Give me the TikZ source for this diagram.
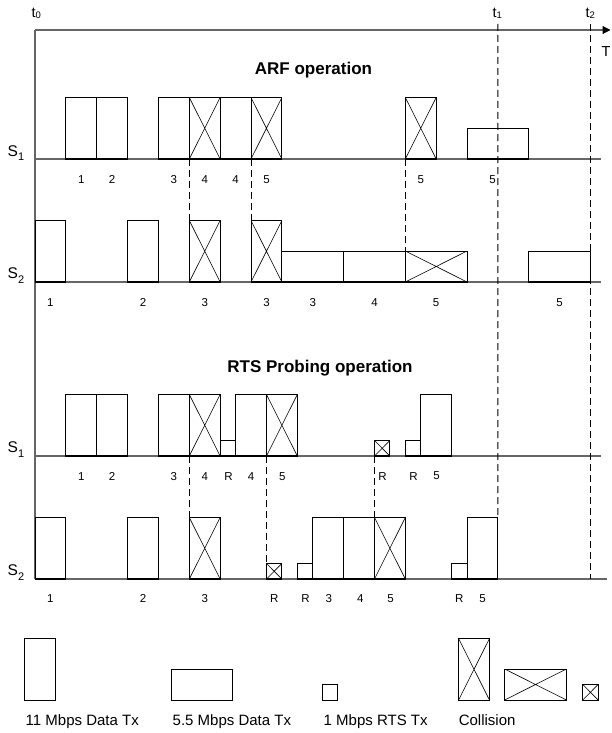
\documentclass[tikz,border=0pt]{standalone}
\usepackage{fontspec}
\setmainfont{Liberation Sans}
\usetikzlibrary{arrows.meta}
\newcommand\Slab[1]{S\raisebox{-5pt}{\fontsize{11}{11}\selectfont #1}}
\newcommand\tlab[1]{t\raisebox{-1.5pt}{\fontsize{9.5}{9.5}\selectfont #1}}
\begin{document}
\begin{tikzpicture}[x=1pt,y=-1pt,
  box/.style={draw=black, line width=0.9pt, inner sep=0pt, outer sep=0pt, anchor=south west},
  tall/.style={box, minimum width=30.86pt, minimum height=61.5pt},
  wide/.style={box, minimum width=61.72pt, minimum height=31pt},
  rtsb/.style={box, minimum width=15.43pt, minimum height=15.5pt},
  onbase/.style={append after command={\pgfextra{\draw[line width=1.6pt,line cap=butt]
      (\tikzlastnode.south west) -- (\tikzlastnode.south east);}}},
  coll/.style={path picture={\draw[line width=0.6pt]
      (path picture bounding box.north west) -- (path picture bounding box.south east)
      (path picture bounding box.north east) -- (path picture bounding box.south west);}},
  num/.style={font=\fontsize{11.5}{12}\selectfont, inner sep=0pt, anchor=base},
  slab/.style={font=\fontsize{15.5}{16}\selectfont, inner sep=0pt, anchor=base west},
  tl/.style={font=\fontsize{14.5}{15}\selectfont, inner sep=0pt, anchor=base west},
  ttl/.style={font=\fontsize{17}{18}\selectfont\bfseries, inner sep=0pt, anchor=base},
  leg/.style={font=\fontsize{15}{16}\selectfont, inner sep=0pt, anchor=base west},
  dline/.style={draw=black, line width=1pt, dash pattern=on 7pt off 4pt},
  axisl/.style={draw=black!60, line width=1.1pt},
]
\useasboundingbox (0,0) rectangle (611,733);

% axes
\coordinate (o) at (35,30);
\coordinate (tend) at (610.5,30);
\coordinate (vend) at (35,579);
\draw[axisl, -{Triangle[length=8pt,width=8pt,color=black]}] (o) -- (tend);
\draw[axisl] (o) -- (vend);

% baselines
\coordinate (bA1l) at (35,159);  \coordinate (bA1r) at (601,159);
\coordinate (bA2l) at (35,282);  \coordinate (bA2r) at (601,282);
\coordinate (bR1l) at (35,456);  \coordinate (bR1r) at (601,456);
\coordinate (bR2l) at (35,579);  \coordinate (bR2r) at (607,579);
\draw[axisl] (bA1l) -- (bA1r);
\draw[axisl] (bA2l) -- (bA2r);
\draw[axisl] (bR1l) -- (bR1r);
\draw[axisl] (bR2l) -- (bR2r);

% time labels
\node[tl] (lt0) at (31.5,17.5) {\tlab{0}};
\node[tl] (lt1) at (492.5,17.5) {\tlab{1}};
\node[tl] (lt2) at (585.5,17.5) {\tlab{2}};
\node[tl] (lT) at (601.5,56.5) {T};

% titles
\node[ttl] (arf) at (313.5,75) {ARF operation};
\node[ttl] (rtsp) at (320,372) {RTS Probing operation};

% station labels
\node[slab] (sA1) at (7.5,156) {\Slab{1}};
\node[slab] (sA2) at (7.5,278) {\Slab{2}};
\node[slab] (sR1) at (7.5,452) {\Slab{1}};
\node[slab] (sR2) at (7.5,575) {\Slab{2}};

\begin{scope}[every node/.append style={onbase}]
% ARF S1
\node[tall] (A1a) at (65.86,159) {};
\node[tall] (A1b) at (96.72,159) {};
\node[tall] (A1c) at (158.44,159) {};
\node[tall,coll] (A1d) at (189.3,159) {};
\node[tall] (A1e) at (220.16,159) {};
\node[tall,coll] (A1f) at (251.02,159) {};
\node[tall,coll] (A1g) at (405.32,159) {};
\node[wide] (A1h) at (467.04,159) {};

% ARF S2
\node[tall] (A2a) at (35,282) {};
\node[tall] (A2b) at (127.58,282) {};
\node[tall,coll] (A2c) at (189.3,282) {};
\node[tall,coll] (A2d) at (251.02,282) {};
\node[wide] (A2e) at (281.88,282) {};
\node[wide] (A2f) at (343.6,282) {};
\node[wide,coll] (A2g) at (405.32,282) {};
\node[wide] (A2h) at (528.76,282) {};

% RTS S1
\node[tall] (R1a) at (65.86,456) {};
\node[tall] (R1b) at (96.72,456) {};
\node[tall] (R1c) at (158.44,456) {};
\node[tall,coll] (R1d) at (189.3,456) {};
\node[rtsb] (R1e) at (220.16,456) {};
\node[tall] (R1f) at (235.59,456) {};
\node[tall,coll] (R1g) at (266.45,456) {};
\node[rtsb,coll] (R1h) at (374.46,456) {};
\node[rtsb] (R1i) at (405.32,456) {};
\node[tall] (R1j) at (420.75,456) {};

% RTS S2
\node[tall] (R2a) at (35,579) {};
\node[tall] (R2b) at (127.58,579) {};
\node[tall,coll] (R2c) at (189.3,579) {};
\node[rtsb,coll] (R2d) at (266.45,579) {};
\node[rtsb] (R2e) at (297.31,579) {};
\node[tall] (R2f) at (312.74,579) {};
\node[tall] (R2g) at (343.6,579) {};
\node[tall,coll] (R2h) at (374.46,579) {};
\node[rtsb] (R2i) at (451.61,579) {};
\node[tall] (R2j) at (467.04,579) {};
\end{scope}

% dashed connectors
\coordinate (t1top) at (497.9,24);
\coordinate (t2top) at (590.48,24);
\coordinate (t2bot) at (590.48,579);
\draw[dline] (A1d.south west) -- (A2c.north west);
\draw[dline] (A1f.south west) -- (A2d.north west);
\draw[dline] (A1g.south west) -- (A2g.north west);
\draw[dline] (R1d.south west) -- (R2c.north west);
\draw[dline] (R1g.south west) -- (R2d.north west);
\draw[dline] (R1h.south west) -- (R2h.north west);
\draw[dline] (t1top) -- (R2j.north east);
\draw[dline] (t2top) -- (t2bot);

% numbers
\foreach \x/\t [count=\i] in {81.29/1,112.15/2,173.87/3,204.73/4,235.59/4,266.45/5,420.75/5,492.6/5}
  \node[num] (nA1\i) at (\x,183.3) {\t};
\foreach \x/\t [count=\i] in {50.43/1,143.01/2,204.73/3,266.45/3,312.74/3,374.46/4,436.18/5,559.62/5}
  \node[num] (nA2\i) at (\x,306.3) {\t};
\foreach \x/\t [count=\i] in {81.29/1,112.15/2,173.87/3,204.73/4,228.6/R,251.02/4,282.3/5,382.6/R,413.5/R}
  \node[num] (nR1\i) at (\x,480.3) {\t};
\node[num] (nR1x) at (436.5,479.3) {5};
\foreach \x/\t [count=\i] in {50.43/1,143.01/2,204.73/3,274.2/R,305.5/R,328.8/3,360.3/4,390.6/5,459.3/R,482.5/5}
  \node[num] (nR2\i) at (\x,602.3) {\t};

% legend
\node[tall] (L1) at (24.3,700) {};
\node[wide] (L2) at (171,700) {};
\node[rtsb] (L3) at (322.5,700) {};
\node[tall,coll] (L4) at (458.6,700) {};
\node[wide,coll] (L5) at (504.7,700) {};
\node[rtsb,coll] (L6) at (582.7,700) {};
\node[leg] (LT1) at (25.5,725) {11 Mbps Data Tx};
\node[leg] (LT2) at (172.5,725) {5.5 Mbps Data Tx};
\node[leg] (LT3) at (323.5,725) {1 Mbps RTS Tx};
\node[leg] (LT4) at (458.6,725) {Collision};
\end{tikzpicture}
\end{document}
